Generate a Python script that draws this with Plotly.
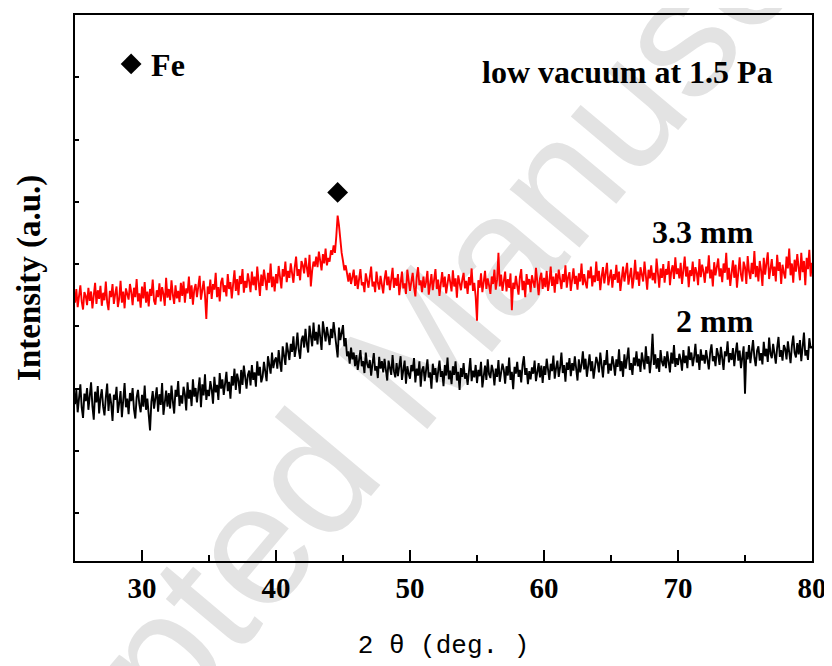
import plotly.graph_objects as go

# 2-theta scan grid (deg.)
two_theta_start = 25.0
two_theta_step = 0.1
n_points = 551
two_theta = [round(two_theta_start + two_theta_step * i, 1) for i in range(n_points)]

# Intensity (a.u.), 3.3 mm sample (red); one row per degree
intensity_33mm = [
    338, 360, 331, 352, 366, 340, 327, 355, 349, 334,   # 25
    362, 341, 356, 329, 350, 370, 336, 358, 344, 365,   # 26
    333, 354, 342, 372, 339, 326, 357, 347, 368, 336,   # 27
    352, 364, 331, 345, 373, 338, 356, 329, 361, 350,   # 28
    343, 368, 355, 334, 362, 347, 376, 340, 353, 330,   # 29
    364, 345, 371, 338, 356, 332, 360, 349, 375, 341,   # 30
    335, 358, 347, 369, 340, 363, 352, 333, 378, 346,   # 31
    360, 342, 374, 351, 336, 366, 345, 357, 339, 370,   # 32
    349, 372, 338, 361, 353, 380, 344, 366, 335, 359,   # 33
    368, 347, 362, 381, 343, 356, 373, 350, 312, 364,   # 34
    352, 375, 344, 368, 359, 386, 347, 363, 340, 371,   # 35
    378, 355, 366, 348, 384, 360, 371, 345, 369, 390,   # 36
    357, 376, 350, 381, 368, 392, 354, 373, 362, 385,   # 37
    372, 355, 388, 366, 380, 358, 396, 371, 349, 383,   # 38
    365, 391, 377, 358, 386, 370, 401, 363, 380, 356,   # 39
    384, 369, 397, 377, 361, 392, 380, 404, 371, 389,   # 40
    378, 401, 386, 370, 395, 412, 381, 392, 374, 405,   # 41
    398, 385, 410, 393, 379, 415, 364, 390, 404, 396,   # 42
    412, 395, 420, 405, 390, 416, 401, 425, 398, 410,   # 43
    404, 422, 415, 430, 418, 445, 478, 462, 436, 418,   # 44
    405, 390, 398, 380, 372, 386, 368, 379, 391, 365,   # 45
    382, 360, 377, 392, 366, 371, 355, 385, 374, 362,   # 46
    379, 396, 364, 372, 355, 388, 370, 359, 381, 367,   # 47
    353, 376, 390, 366, 380, 358, 373, 394, 362, 378,   # 48
    365, 384, 350, 373, 388, 361, 369, 352, 391, 374,   # 49
    357, 372, 386, 363, 348, 379, 395, 366, 374, 355,   # 50
    380, 362, 371, 389, 351, 367, 384, 358, 376, 392,   # 51
    360, 375, 349, 370, 387, 363, 380, 353, 368, 384,   # 52
    371, 356, 390, 364, 377, 346, 382, 369, 358, 375,   # 53
    386, 361, 373, 352, 379, 366, 393, 357, 370, 348,   # 54
    309, 374, 362, 385, 355, 371, 389, 360, 377, 366,   # 55
    352, 380, 368, 391, 359, 375, 418, 364, 383, 357,   # 56
    372, 388, 356, 376, 362, 385, 326, 370, 360, 381,   # 57
    365, 351, 379, 392, 358, 373, 347, 384, 367, 376,   # 58
    355, 382, 371, 362, 394, 368, 350, 377, 386, 360,   # 59
    378, 363, 389, 357, 372, 396, 365, 380, 354, 385,   # 60
    368, 391, 377, 360, 384, 371, 398, 362, 379, 387,   # 61
    357, 376, 393, 368, 381, 359, 385, 372, 401, 366,   # 62
    384, 370, 361, 390, 377, 396, 364, 382, 371, 404,   # 63
    373, 389, 358, 380, 395, 369, 385, 402, 366, 378,   # 64
    391, 362, 384, 375, 399, 370, 388, 357, 380, 396,   # 65
    372, 389, 402, 367, 383, 394, 361, 378, 407, 375,   # 66
    388, 365, 395, 380, 372, 404, 384, 359, 391, 377,   # 67
    398, 374, 386, 369, 409, 381, 362, 393, 378, 400,   # 68
    370, 392, 383, 405, 366, 389, 398, 376, 411, 384,   # 69
    393, 377, 402, 368, 387, 412, 380, 396, 363, 390,   # 70
    381, 404, 372, 395, 386, 366, 408, 379, 399, 388,   # 71
    370, 396, 385, 414, 377, 391, 364, 403, 382, 398,   # 72
    409, 380, 393, 371, 401, 386, 418, 375, 394, 365,   # 73
    386, 406, 378, 399, 362, 392, 411, 383, 372, 404,   # 74
    395, 368, 413, 388, 376, 402, 384, 421, 379, 397,   # 75
    372, 405, 390, 365, 410, 383, 398, 419, 376, 392,   # 76
    408, 381, 396, 372, 415, 389, 403, 368, 399, 386,   # 77
    377, 412, 393, 425, 382, 401, 370, 407, 388, 416,   # 78
    396, 374, 418, 387, 405, 366, 410, 392, 423, 380,   # 79
    402,                                                # 80
]

# Intensity (a.u.), 2 mm sample (black); one row per degree
intensity_2mm = [
    175, 198, 162, 189, 207, 170, 153, 192, 180, 201,   # 25
    166, 188, 210, 172, 150, 195, 178, 204, 160, 185,   # 26
    199, 171, 157, 186, 208, 164, 192, 176, 148, 190,   # 27
    182, 203, 161, 177, 196, 154, 188, 209, 170, 184,   # 28
    159, 193, 180, 201, 167, 152, 186, 198, 175, 162,   # 29
    190, 171, 205, 166, 184, 150, 133, 179, 196, 168,   # 30
    186, 202, 163, 191, 174, 209, 158, 183, 197, 171,   # 31
    193, 168, 205, 180, 160, 198, 187, 212, 172, 189,   # 32
    176, 203, 191, 165, 210, 184, 198, 172, 215, 187,   # 33
    201, 178, 195, 218, 170, 207, 189, 223, 182, 198,   # 34
    188, 212, 199, 176, 219, 194, 206, 182, 225, 200,   # 35
    215, 190, 208, 227, 196, 211, 184, 220, 205, 232,   # 36
    198, 224, 213, 192, 230, 206, 237, 215, 200, 222,   # 37
    229, 205, 238, 214, 226, 203, 244, 221, 235, 210,   # 38
    219, 243, 230, 212, 252, 236, 224, 258, 233, 245,   # 39
    250, 232, 262, 241, 227, 268, 249, 238, 274, 255,   # 40
    246, 272, 259, 284, 251, 266, 290, 262, 248, 278,   # 41
    285, 266, 296, 272, 258, 301, 280, 268, 306, 277,   # 42
    291, 271, 303, 284, 262, 308, 289, 276, 299, 282,   # 43
    270, 296, 281, 307, 285, 264, 250, 298, 278, 290,   # 44
    302, 268, 281, 252, 260, 240, 266, 247, 258, 236,   # 45
    254, 230, 249, 262, 236, 244, 225, 258, 240, 233,   # 46
    246, 221, 240, 257, 229, 236, 217, 251, 232, 244,   # 47
    226, 248, 230, 213, 245, 236, 222, 254, 228, 218,   # 48
    241, 220, 233, 252, 214, 229, 245, 208, 236, 224,   # 49
    216, 238, 228, 249, 210, 232, 221, 244, 203, 230,   # 50
    236, 212, 229, 247, 218, 226, 200, 240, 222, 233,   # 51
    210, 231, 245, 219, 228, 204, 238, 221, 250, 215,   # 52
    229, 207, 236, 222, 244, 213, 227, 198, 233, 219,   # 53
    241, 216, 225, 206, 235, 249, 212, 229, 218, 238,   # 54
    209, 230, 220, 243, 202, 226, 237, 214, 247, 223,   # 55
    217, 238, 228, 205, 232, 219, 246, 211, 226, 240,   # 56
    230, 208, 236, 221, 250, 214, 227, 199, 235, 224,   # 57
    243, 219, 230, 210, 238, 252, 222, 233, 207, 228,   # 58
    215, 234, 224, 245, 212, 230, 241, 218, 237, 209,   # 59
    236, 222, 248, 231, 214, 240, 228, 253, 216, 233,   # 60
    245, 219, 234, 258, 225, 238, 211, 242, 230, 249,   # 61
    220, 241, 229, 252, 236, 213, 247, 226, 238, 260,   # 62
    231, 248, 219, 240, 255, 228, 244, 216, 237, 251,   # 63
    242, 226, 258, 233, 218, 246, 238, 262, 224, 240,   # 64
    229, 252, 240, 221, 247, 235, 263, 228, 244, 219,   # 65
    255, 232, 246, 266, 230, 241, 222, 250, 237, 260,   # 66
    236, 248, 227, 258, 244, 231, 268, 240, 252, 225,   # 67
    247, 288, 238, 255, 232, 249, 227, 262, 243, 236,   # 68
    252, 233, 260, 245, 226, 258, 240, 270, 235, 249,   # 69
    238, 256, 247, 229, 262, 241, 253, 233, 268, 246,   # 70
    258, 236, 250, 272, 242, 255, 230, 263, 245, 254,   # 71
    240, 262, 249, 231, 258, 271, 244, 252, 236, 265,   # 72
    255, 238, 267, 248, 230, 260, 252, 276, 242, 257,   # 73
    246, 265, 236, 258, 274, 245, 261, 233, 255, 268,   # 74
    192, 259, 247, 270, 241, 263, 278, 250, 236, 261,   # 75
    268, 245, 257, 239, 275, 252, 264, 243, 282, 256,   # 76
    249, 272, 258, 240, 266, 283, 251, 262, 245, 270,   # 77
    264, 247, 276, 256, 241, 269, 285, 258, 250, 273,   # 78
    255, 278, 244, 267, 290, 253, 262, 246, 281, 265,   # 79
    268,                                                # 80
]

# Fe peak marker
fe_peak_x = [44.6]
fe_peak_y = [515]

x_ticks = [30, 40, 50, 60, 70, 80]
x_minor_ticks = [35, 45, 55, 65, 75]
y_ticks = [0, 100, 200, 300, 400, 500, 600, 700]

serif = "Liberation Serif"
bold_serif = dict(family=serif, size=32, color="black", weight="bold")

fig = go.Figure()
fig.add_trace(go.Scatter(x=two_theta, y=intensity_33mm, mode="lines",
                         line=dict(color="#ff0000", width=1.9), showlegend=False))
fig.add_trace(go.Scatter(x=two_theta, y=intensity_2mm, mode="lines",
                         line=dict(color="#000000", width=1.9), showlegend=False))
fig.add_trace(go.Scatter(x=fe_peak_x, y=fe_peak_y, mode="markers", name="Fe",
                         marker=dict(symbol="diamond", size=16, color="black"),
                         showlegend=True))

# The page body adds an 8 px offset, so the figure is 8 px smaller than the window.
fig.update_layout(
    width=824, height=658,
    margin=dict(l=67, r=19, t=5, b=105),
    paper_bgcolor="white",
    plot_bgcolor="rgba(0,0,0,0)",
    legend=dict(x=0.049, y=0.91, xanchor="left", yanchor="middle",
                bgcolor="rgba(0,0,0,0)", borderwidth=0, font=bold_serif),
    xaxis=dict(range=[25, 80], tickmode="array", tickvals=x_ticks,
               ticks="inside", ticklen=11, tickwidth=2, tickcolor="black",
               minor=dict(tickmode="array", tickvals=x_minor_ticks, ticks="inside",
                          ticklen=6, tickwidth=2, tickcolor="black"),
               showline=True, linewidth=2, linecolor="black", mirror=True,
               showgrid=False, zeroline=False,
               tickfont=dict(family=serif, size=29, color="black", weight="bold"),
               title=dict(text="2 θ (deg. )", standoff=32,
                          font=dict(family="Liberation Mono", size=26, color="black"))),
    yaxis=dict(range=[-76.8, 800], tickmode="array", tickvals=y_ticks,
               ticks="inside", ticklen=4, tickwidth=1.5, tickcolor="black",
               showticklabels=False,
               showline=True, linewidth=2, linecolor="black", mirror=True,
               showgrid=False, zeroline=False),
    shapes=[dict(type="rect", xref="paper", yref="paper",
                 x0=0.41, x1=0.43, y0=0.355, y1=0.375,
                 line=dict(width=0), fillcolor="rgba(0,0,0,0)", layer="below",
                 label=dict(text="Accepted Manuscript", textangle=-50,
                            textposition="middle center",
                            font=dict(family="Liberation Sans", size=172, color="#e3e3e3")))],
    annotations=[
        dict(text="Intensity (a.u.)", xref="paper", yref="paper",
             x=-0.062, y=0.519, xanchor="center", yanchor="middle", textangle=-90,
             showarrow=False, font=dict(family=serif, size=33, color="black", weight="bold")),
        dict(text="low vacuum at 1.5 Pa", xref="paper", yref="paper",
             x=0.950, y=0.895, xanchor="right", yanchor="middle", showarrow=False,
             font=bold_serif),
        dict(text="3.3 mm", x=75.85, y=452, xanchor="right", yanchor="middle",
             showarrow=False, font=bold_serif),
        dict(text="2 mm", x=75.85, y=308, xanchor="right", yanchor="middle",
             showarrow=False, font=bold_serif),
    ],
)

fig.write_html("out.html")
